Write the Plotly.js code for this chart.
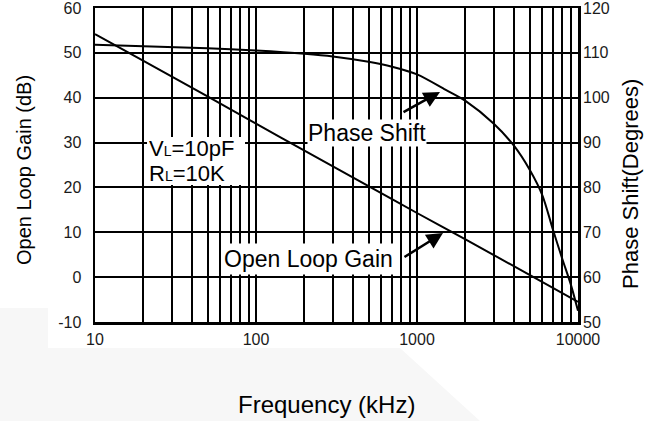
<!DOCTYPE html>
<html>
<head>
<meta charset="utf-8">
<script src="https://cdn.plot.ly/plotly-3.0.1.min.js"></script>
<style>html,body{margin:0;padding:0;background:#fff;}#chart{width:657px;height:421px;}</style>
</head>
<body>
<div id="chart"></div>
<script>
// Data
const gainFreq = [10, 20, 50, 100, 200, 500, 1000, 2000, 5000, 10000];
const gainDb   = [54.2, 48.2, 40.3, 34.2, 28.2, 20.3, 14.3, 8.4, 0.5, -5.5];

const phaseFreq = [10, 20, 50, 100, 200, 300, 500, 700, 1000, 1500, 2000, 3000, 4000, 5000, 6000, 7000, 8000, 9000, 10000];
const phaseDeg  = [111.8, 111.5, 111.0, 110.5, 109.8, 109.2, 108.0, 106.9, 105.2, 101.8, 99.3, 94.2, 89.3, 84.0, 78.3, 70.5, 64.0, 58.5, 52.5];

const xTickVals = [10,20,30,40,50,60,70,80,90,100,200,300,400,500,600,700,800,900,1000,2000,3000,4000,5000,6000,7000,8000,9000,10000];
const xTickText = xTickVals.map(v => ([10,100,1000,10000].includes(v) ? String(v) : ''));

const gainTickVals = [-10, 0, 10, 20, 30, 40, 50, 60];
const gainTickText = ['-10', '0', '10', '20', '30', '40', '50', '60'];
const phaseTickVals = [50, 60, 70, 80, 90, 100, 110, 120];
const phaseTickText = ['50', '60', '70', '80', '90', '100', '110', '120'];

const FONT = 'Arial, "Liberation Sans", sans-serif';
const tickFont = {family: FONT, size: 16, color: '#1a1a1a'};

const traces = [
  {x: gainFreq, y: gainDb, type: 'scatter', mode: 'lines', yaxis: 'y',
   line: {color: '#000', width: 2, shape: 'spline', smoothing: 0.6}, showlegend: false, hoverinfo: 'skip'},
  {x: phaseFreq, y: phaseDeg, type: 'scatter', mode: 'lines', yaxis: 'y2',
   line: {color: '#000', width: 2, shape: 'spline', smoothing: 0.8}, showlegend: false, hoverinfo: 'skip'}
];

const layout = {
  width: 657, height: 421,
  margin: {l: 95, r: 79, t: 8, b: 99, pad: 0},
  paper_bgcolor: '#ffffff', plot_bgcolor: '#ffffff',
  font: {family: FONT, color: '#000'},
  xaxis: {type: 'log', range: [1, 4], tickvals: xTickVals, ticktext: xTickText,
    showgrid: true, gridcolor: '#000', gridwidth: 2, ticks: '', tickfont: tickFont,
    showline: true, mirror: true, linecolor: '#000', linewidth: 2.5, zeroline: false,
    ticklabelstandoff: 1, ticklabeloverflow: 'allow'},
  yaxis: {range: [-10, 60], tickvals: gainTickVals, ticktext: gainTickText, showgrid: true, gridcolor: '#000', gridwidth: 2,
    ticks: '', tickfont: tickFont, showline: true, mirror: true, linecolor: '#000', linewidth: 2.5,
    zeroline: false, ticklabelstandoff: 8, ticklabeloverflow: 'allow'},
  yaxis2: {range: [50, 120], tickvals: phaseTickVals, ticktext: phaseTickText, overlaying: 'y', side: 'right', showgrid: false,
    ticks: '', tickfont: tickFont, showline: false, zeroline: false, ticklabelstandoff: 4, ticklabeloverflow: 'allow'},
  shapes: [
    {type: 'path', xref: 'paper', yref: 'paper', layer: 'below',
     path: 'M -0.1967,0.0446 L -0.0973,0.0446 L -0.0973,-0.0828 L 0.6315,-0.0828 L 0.7971,-0.3153 L -0.1967,-0.3153 Z',
     fillcolor: '#f7f7f7', line: {width: 0}},
    {type: 'rect', xref: 'paper', yref: 'paper', layer: 'above',
     x0: 0.1077, x1: 0.3106, y0: 0.4363, y1: 0.589, fillcolor: '#ffffff', line: {width: 0}}
  ],
  annotations: [
    {text: 'Open Loop Gain (dB)', xref: 'paper', yref: 'paper', x: -0.147, y: 0.484, textangle: -90,
     showarrow: false, font: {family: FONT, size: 20, color: '#000'}, xanchor: 'center', yanchor: 'middle'},
    {text: 'Phase Shift(Degrees)', xref: 'paper', yref: 'paper', x: 1.1097, y: 0.4395, textangle: -90,
     showarrow: false, font: {family: FONT, size: 22, color: '#000'}, xanchor: 'center', yanchor: 'middle'},
    {text: 'Frequency (kHz)', xref: 'paper', yref: 'paper', x: 0.479, y: -0.264,
     showarrow: false, font: {family: FONT, size: 24, color: '#000'}, xanchor: 'center', yanchor: 'middle'},
    {text: 'Phase Shift', xref: 'paper', yref: 'paper', x: 0.564, y: 0.6035, showarrow: false,
     bgcolor: '#ffffff', borderpad: 0, font: {family: FONT, size: 23, color: '#000'}, xanchor: 'center', yanchor: 'middle'},
    {text: 'Open Loop Gain', xref: 'paper', yref: 'paper', x: 0.442, y: 0.2006, showarrow: false,
     bgcolor: '#ffffff', borderpad: 2, font: {family: FONT, size: 23, color: '#000'}, xanchor: 'center', yanchor: 'middle'},
    {text: 'V<span style="font-size:14px">L</span>=10pF', xref: 'paper', yref: 'paper', x: 0.1077, y: 0.553,
     showarrow: false, font: {family: FONT, size: 22, color: '#000'}, xanchor: 'left', yanchor: 'middle'},
    {text: 'R<span style="font-size:14px">L</span>=10K', xref: 'paper', yref: 'paper', x: 0.1077, y: 0.474,
     showarrow: false, font: {family: FONT, size: 22, color: '#000'}, xanchor: 'left', yanchor: 'middle'},
    {text: '', xref: 'x', yref: 'y2', x: Math.log10(1390), y: 101.3, axref: 'x', ayref: 'y2',
     ax: Math.log10(807), ay: 96.6, showarrow: true, arrowhead: 2, arrowsize: 1.3, arrowwidth: 2.5, arrowcolor: '#000', standoff: 0},
    {text: '', xref: 'x', yref: 'y', x: Math.log10(1450), y: 9.84, axref: 'x', ayref: 'y',
     ax: Math.log10(818), ay: 4.27, showarrow: true, arrowhead: 2, arrowsize: 1.3, arrowwidth: 2.5, arrowcolor: '#000', standoff: 0}
  ]
};

Plotly.newPlot('chart', traces, layout, {staticPlot: true, displayModeBar: false});
</script>
</body>
</html>
